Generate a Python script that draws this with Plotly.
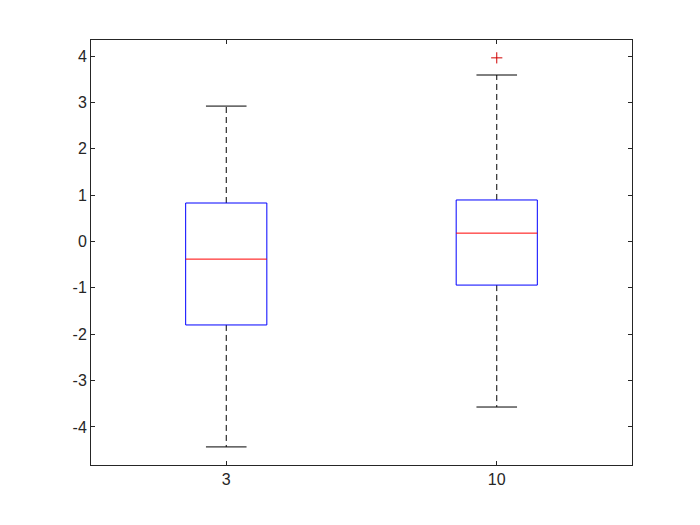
import plotly.graph_objects as go

categories = ["3", "10"]
positions = [1, 2]
q1 = [-1.80, -0.94]
median = [-0.38, 0.18]
q3 = [0.83, 0.895]
lower_whisker = [-4.43, -3.57]
upper_whisker = [2.92, 3.59]
outliers = [[], [3.96]]

BOX_HALF = 0.15
CAP_HALF = 0.075

fig = go.Figure()
for i, p in enumerate(positions):
    # whiskers (dashed)
    fig.add_trace(go.Scatter(x=[p, p, None, p, p],
                             y=[q3[i], upper_whisker[i], None, q1[i], lower_whisker[i]],
                             mode="lines", line=dict(color="black", width=1, dash="6px,4px"),
                             showlegend=False, hoverinfo="skip"))
    # caps
    fig.add_trace(go.Scatter(x=[p - CAP_HALF, p + CAP_HALF, None, p - CAP_HALF, p + CAP_HALF],
                             y=[upper_whisker[i], upper_whisker[i], None, lower_whisker[i], lower_whisker[i]],
                             mode="lines", line=dict(color="black", width=1),
                             showlegend=False, hoverinfo="skip"))
    # box
    fig.add_trace(go.Scatter(x=[p - BOX_HALF, p + BOX_HALF, p + BOX_HALF, p - BOX_HALF, p - BOX_HALF],
                             y=[q1[i], q1[i], q3[i], q3[i], q1[i]],
                             mode="lines", line=dict(color="blue", width=1),
                             showlegend=False, hoverinfo="skip"))
    # median
    fig.add_trace(go.Scatter(x=[p - BOX_HALF, p + BOX_HALF],
                             y=[median[i], median[i]],
                             mode="lines", line=dict(color="red", width=1),
                             showlegend=False, hoverinfo="skip"))
    if outliers[i]:
        fig.add_trace(go.Scatter(x=[p] * len(outliers[i]), y=outliers[i], mode="markers",
                                 marker=dict(symbol="cross-thin", size=8,
                                             line=dict(color="#d00000", width=1)),
                                 showlegend=False, hoverinfo="skip"))

axis_common = dict(showline=True, linecolor="#262626", linewidth=1, mirror="allticks",
                   ticks="inside", ticklen=4, tickcolor="#262626", showgrid=False,
                   zeroline=False, tickfont=dict(family="Liberation Sans, Arial", size=16, color="#262626"))

fig.update_layout(
    width=700, height=525,
    paper_bgcolor="white", plot_bgcolor="white",
    margin=dict(l=83, r=76, t=32, b=68),
    xaxis=dict(range=[0.5, 2.5], tickvals=positions, ticktext=categories, **axis_common),
    yaxis=dict(range=[-4.82, 4.345], tickvals=[-4, -3, -2, -1, 0, 1, 2, 3, 4],
               ticktext=["-4", "-3", "-2", "-1", "0", "1", "2", "3", "4"], **axis_common),
)

fig.write_html("out.html")
